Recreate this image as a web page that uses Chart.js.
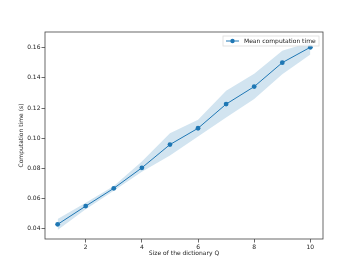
<!DOCTYPE html>
<html>
<head>
<meta charset="utf-8">
<script src="https://cdn.jsdelivr.net/npm/chart.js@4/dist/chart.umd.min.js"></script>
<style>
  html, body { margin: 0; padding: 0; background: #fff; }
  canvas { display: block; }
</style>
</head>
<body>
<canvas id="grafico" width="359" height="269"></canvas>
<script>
const tamanos = [1, 2, 3, 4, 5, 6, 7, 8, 9, 10];
const tiempoMedio = [0.0429, 0.0550, 0.0668, 0.0804, 0.0958, 0.1066, 0.1226, 0.1342, 0.1501, 0.1603];
const bandaSuperior = [0.0464, 0.0572, 0.0683, 0.0846, 0.1033, 0.1122, 0.1315, 0.1428, 0.1579, 0.1637];
const bandaInferior = [0.0391, 0.0530, 0.0652, 0.0778, 0.0886, 0.1011, 0.1138, 0.1260, 0.1424, 0.1555];
const ticksX = [2, 4, 6, 8, 10];
const ticksY = [0.04, 0.06, 0.08, 0.10, 0.12, 0.14, 0.16];

const azul = '#1f77b4';
const fuente = { family: 'DejaVu Sans', size: 6 };

const pares = arr => arr.map((v, i) => ({ x: tamanos[i], y: v }));

// marco completo y leyenda dentro del area
const marcoYLeyenda = {
  id: 'marcoYLeyenda',
  afterDraw(chart) {
    const { ctx, chartArea: a } = chart;
    ctx.save();
    ctx.strokeStyle = '#444';
    ctx.lineWidth = 0.8;
    ctx.strokeRect(a.left, a.top, a.right - a.left, a.bottom - a.top);

    const w = 96, h = 10;
    const x0 = a.right - 4 - w, y0 = a.top + 4;
    ctx.fillStyle = 'rgba(255,255,255,0.8)';
    ctx.strokeStyle = '#ddd';
    ctx.lineWidth = 0.8;
    ctx.fillRect(x0, y0, w, h);
    ctx.strokeRect(x0, y0, w, h);
    ctx.strokeStyle = azul;
    ctx.lineWidth = 1;
    ctx.beginPath();
    ctx.moveTo(x0 + 3, y0 + h / 2);
    ctx.lineTo(x0 + 16, y0 + h / 2);
    ctx.stroke();
    ctx.fillStyle = azul;
    ctx.beginPath();
    ctx.arc(x0 + 9.5, y0 + h / 2, 2.2, 0, Math.PI * 2);
    ctx.fill();
    ctx.fillStyle = '#222';
    ctx.font = '6px "DejaVu Sans"';
    ctx.textBaseline = 'middle';
    ctx.fillText('Mean computation time', x0 + 21, y0 + h / 2 + 0.5);
    ctx.restore();
  }
};

new Chart(document.getElementById('grafico'), {
  type: 'line',
  data: {
    datasets: [
      {
        data: pares(bandaSuperior),
        borderWidth: 0,
        pointRadius: 0,
        fill: '+1',
        backgroundColor: 'rgba(31,119,180,0.2)',
        tension: 0
      },
      {
        data: pares(bandaInferior),
        borderWidth: 0,
        pointRadius: 0,
        fill: false,
        tension: 0
      },
      {
        label: 'Mean computation time',
        data: pares(tiempoMedio),
        borderColor: azul,
        backgroundColor: azul,
        borderWidth: 1,
        pointRadius: 2.4,
        pointBackgroundColor: azul,
        pointBorderWidth: 0,
        fill: false,
        tension: 0
      }
    ]
  },
  plugins: [marcoYLeyenda],
  options: {
    responsive: false,
    animation: false,
    layout: { padding: { left: 17, top: 32, right: 36, bottom: 11 } },
    plugins: { legend: { display: false }, tooltip: { enabled: false } },
    scales: {
      x: {
        type: 'linear',
        min: 0.55,
        max: 10.45,
        afterBuildTicks: s => { s.ticks = ticksX.map(v => ({ value: v })); },
        afterFit: s => { s.height = 19; },
        grid: { drawOnChartArea: false, tickLength: 3.5, color: '#444', tickWidth: 0.8 },
        border: { display: false },
        ticks: { font: fuente, color: '#222', padding: 1, maxRotation: 0, callback: v => v },
        title: { display: true, text: 'Size of the dictionary Q', font: fuente, color: '#222', padding: { top: 2, bottom: 1 } }
      },
      y: {
        min: 0.0332,
        max: 0.1704,
        afterBuildTicks: s => { s.ticks = ticksY.map(v => ({ value: v })); },
        afterFit: s => { s.width = 28; },
        grid: { drawOnChartArea: false, tickLength: 3.5, color: '#444', tickWidth: 0.8 },
        border: { display: false },
        ticks: { font: fuente, color: '#222', padding: 1, callback: v => v.toFixed(2) },
        title: { display: true, text: 'Computation time (s)', font: fuente, color: '#222', padding: { top: 1, bottom: 1 } }
      }
    }
  }
});
</script>
</body>
</html>
